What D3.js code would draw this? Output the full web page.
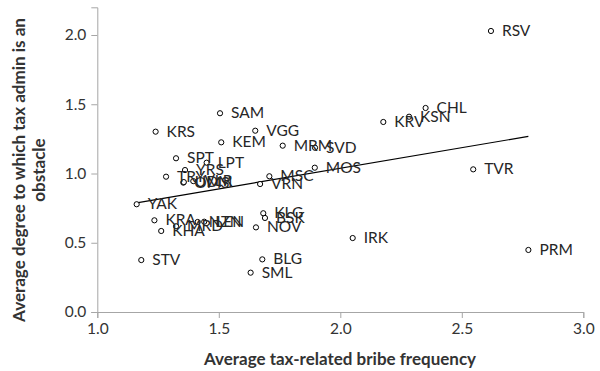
<!DOCTYPE html>
<html><head><meta charset="utf-8">
<script src="https://cdn.jsdelivr.net/npm/d3@7"></script>
<style>body{margin:0;background:#fff}svg{display:block}</style>
</head><body>
<script>
const regions = ["RSV","CHL","KSN","KRV","SAM","KRS","VGG","KEM","MRM","SVD","SPT","LPT","YRS","TRY","MOS","MSC","VRN","TVR","OMS","UDM","VLR","YAK","KRA","KHA","MRD","NZN","LEN","KLG","BSK","NOV","IRK","PRM","STV","BLG","SML"];
const bribeFreq = [2.620,2.351,2.283,2.177,1.505,1.240,1.650,1.510,1.763,1.896,1.324,1.450,1.361,1.283,1.895,1.708,1.670,2.547,1.354,1.356,1.395,1.162,1.235,1.263,1.324,1.413,1.440,1.683,1.690,1.653,2.051,2.774,1.181,1.679,1.631];
const taxObstacle = [2.029,1.473,1.410,1.372,1.435,1.302,1.309,1.225,1.201,1.186,1.110,1.078,1.025,0.977,1.042,0.980,0.924,1.030,0.934,0.938,0.945,0.778,0.662,0.585,0.619,0.650,0.652,0.713,0.679,0.611,0.534,0.448,0.375,0.380,0.284];
const xTicks = [1.0,1.5,2.0,2.5,3.0];
const yTicks = [0.0,0.5,1.0,1.5,2.0];
const xTitle = "Average tax-related bribe frequency";
const yTitleLines = ["Average degree to which tax admin is an","obstacle"];

const W=600,H=371;
const svg=d3.select("body").append("svg").attr("width",W).attr("height",H);
const x=d3.scaleLinear().domain([1,3]).range([97.3,583.3]);
const y=d3.scaleLinear().domain([0,2.2]).range([312,7.3]);
const font="Lato, 'Open Sans', sans-serif";
const axisColor="#a6a6a6", textColor="#333", labelColor="#262626";

const xa=svg.append("g").attr("transform","translate(0,312)")
  .call(d3.axisBottom(x).tickValues(xTicks).tickFormat(d3.format(".1f")).tickSizeOuter(0).tickSize(6).tickPadding(5));
const ya=svg.append("g").attr("transform","translate(97.3,0)")
  .call(d3.axisLeft(y).tickValues(yTicks).tickFormat(d3.format(".1f")).tickSizeOuter(0).tickSize(6).tickPadding(5));
[xa,ya].forEach(a=>{
  a.selectAll("path,line").attr("stroke",axisColor).attr("stroke-width",1);
  a.selectAll("text").attr("fill",textColor).style("font-family",font).style("font-size","15.5px");
});

const pts=regions.map((r,i)=>({r,x:bribeFreq[i],y:taxObstacle[i]}));

// linear trend line (least squares)
const mx=d3.mean(pts,d=>d.x), my=d3.mean(pts,d=>d.y);
const slope=d3.sum(pts,d=>(d.x-mx)*(d.y-my))/d3.sum(pts,d=>(d.x-mx)**2);
const icpt=my-slope*mx;
const [x0,x1]=d3.extent(pts,d=>d.x);
svg.append("line").attr("x1",x(x0)).attr("y1",y(icpt+slope*x0)).attr("x2",x(x1)).attr("y2",y(icpt+slope*x1))
  .attr("stroke","#000").attr("stroke-width",1.2);

svg.append("g").selectAll("circle").data(pts).join("circle")
  .attr("cx",d=>x(d.x)).attr("cy",d=>y(d.y)).attr("r",2.6)
  .attr("fill","#fff").attr("stroke","#000").attr("stroke-width",1);

svg.append("g").selectAll("text").data(pts).join("text")
  .attr("x",d=>x(d.x)+11).attr("y",d=>y(d.y)+1).attr("dominant-baseline","middle")
  .attr("fill",labelColor).style("font-family",font).style("font-size","15.5px").text(d=>d.r);

svg.append("text").attr("x",340).attr("y",361).attr("text-anchor","middle").attr("dominant-baseline","middle")
  .attr("fill",textColor).style("font-family",font).style("font-size","17px").style("font-weight","bold").text(xTitle);
const yt=svg.append("text").attr("transform","translate(21,170) rotate(-90)").attr("text-anchor","middle")
  .attr("fill",textColor).style("font-family",font).style("font-size","17px").style("font-weight","bold");
yTitleLines.forEach((l,i)=>yt.append("tspan").attr("x",0).attr("y",i*19.5).attr("dominant-baseline","middle").text(l));
</script>
</body></html>
